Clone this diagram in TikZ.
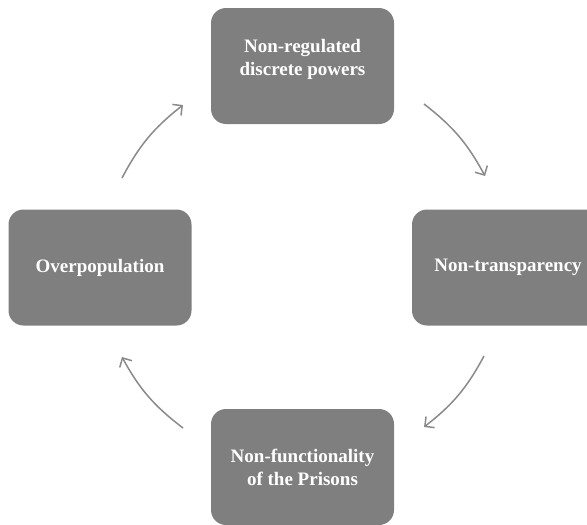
\documentclass[tikz,border=0pt]{standalone}
\usepackage{fontspec}
\setmainfont{Liberation Serif}
\usepackage{xcolor}
\usetikzlibrary{arrows.meta}
\definecolor{boxgray}{HTML}{7F7F7F}
\definecolor{arrowgray}{HTML}{8A8A8A}
\tikzset{
  cyclebox/.style={
    draw=none, fill=boxgray, rounded corners=15pt,
    minimum width=183pt, minimum height=116pt,
    text=white, align=center, font=\bfseries\fontsize{19}{23}\selectfont
  },
  cyclearrow/.style={
    draw=arrowgray, line width=1.5pt,
    -{Straight Barb[length=7pt,width=14pt,line width=1.5pt]}
  }
}
\begin{document}
\begin{tikzpicture}[x=1pt,y=-1pt]
		\useasboundingbox (0,0) rectangle (587,525);
		\begin{scope}
		\clip (0,0) rectangle (587,525);
		\node[cyclebox] (powers) at (302.5,66) {Non-regulated\\discrete powers\\[-6pt]\mbox{}};
		\node[cyclebox, minimum width=192pt] (transp) at (508,267.5) {Non-transparency};
		\node[cyclebox] (prisons) at (302.5,467) {Non-functionality\\of the Prisons};
		\node[cyclebox] (overpop) at (100,267.5) {Overpopulation};
		\end{scope}
		%
		\coordinate (a1) at (122,178);
		\coordinate (b1) at (183,105);
		\coordinate (a2) at (424,104);
		\coordinate (b2) at (485,176);
		\coordinate (a3) at (484,356);
		\coordinate (b3) at (424,427);
		\coordinate (a4) at (183,428);
		\coordinate (b4) at (122,357);
		%
		\draw[cyclearrow] (a1) to[bend left=12] (b1);
		\draw[cyclearrow] (a2) to[bend left=12] (b2);
		\draw[cyclearrow] (a3) to[bend left=12] (b3);
		\draw[cyclearrow] (a4) to[bend left=12] (b4);
	\end{tikzpicture}
\end{document}
